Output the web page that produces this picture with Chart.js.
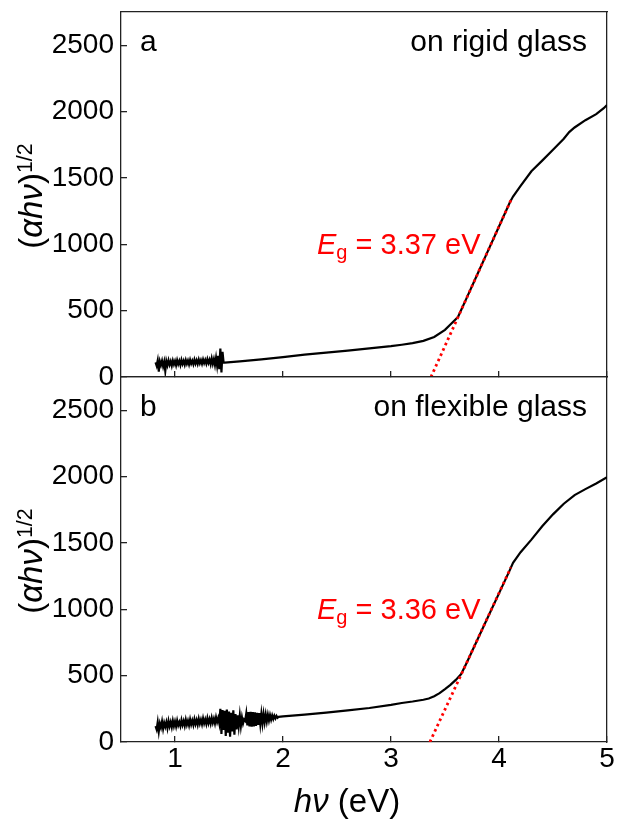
<!DOCTYPE html>
<html><head><meta charset="utf-8">
<script src="https://cdn.jsdelivr.net/npm/chart.js@4.4.1/dist/chart.umd.min.js"></script>
<style>
html,body{margin:0;padding:0;background:#fff;}
body{width:620px;height:825px;position:relative;overflow:hidden;font-family:"Liberation Sans",Arial,sans-serif;}
canvas{position:absolute;left:0;}
#ca{top:0;}
#cb{top:360px;}
.t{position:absolute;font-size:30px;line-height:1;white-space:nowrap;color:#000;}
.eg{position:absolute;font-size:29px;line-height:1;white-space:nowrap;color:#ff0000;}
.yt{position:absolute;font-size:33px;line-height:1;white-space:nowrap;color:#000;transform:translate(-50%,-50%) rotate(-90deg);}
.sup{font-size:0.65em;position:relative;top:-10px;}
.sub{font-size:20px;position:relative;top:5px;}
</style></head><body>
<canvas id="ca" width="620" height="395"></canvas>
<canvas id="cb" width="620" height="465"></canvas>

<div class="t" style="left:140px;top:26px;">a</div>
<div class="t" style="right:33px;top:26px;">on rigid glass</div>
<div class="eg" style="left:317px;top:230px;"><i>E</i><span class="sub">g</span> = 3.37 eV</div>

<div class="t" style="left:140px;top:391px;">b</div>
<div class="t" style="right:33px;top:391px;">on flexible glass</div>
<div class="eg" style="left:317px;top:595px;"><i>E</i><span class="sub">g</span> = 3.36 eV</div>

<div class="yt" style="left:30px;top:196px;">(<i>αhν</i>)<span class="sup">1/2</span></div>
<div class="yt" style="left:30px;top:561px;">(<i>αhν</i>)<span class="sup">1/2</span></div>
<div class="t" style="font-size:33px;left:347px;top:784px;transform:translateX(-50%);"><i>hν</i> (eV)</div>

<script>
// ---------- data ----------
const xTicks = [1, 2, 3, 4, 5];
const yTicks = [0, 500, 1000, 1500, 2000, 2500];

// panel a: on rigid glass
const hvA = [0.82,0.83,0.84,0.85,0.86,0.87,0.88,0.89,0.90,0.91,0.92,0.93,0.94,0.95,0.96,0.97,0.98,0.99,
  1.00,1.01,1.02,1.03,1.04,1.05,1.06,1.07,1.08,1.09,1.10,1.11,1.12,1.13,1.14,1.15,1.16,1.17,1.18,1.19,
  1.20,1.21,1.22,1.23,1.24,1.25,1.26,1.27,1.28,1.29,1.30,1.31,1.32,1.33,1.34,1.35,1.36,1.37,1.38,1.39,
  1.40,1.41,1.42,1.43,1.44,1.45,
  1.46,1.6,1.8,2.0,2.2,2.4,2.6,2.8,3.0,3.1,3.2,3.3,3.4,3.5,3.55,3.62,3.7,3.8,3.9,4.0,4.1,4.13,
  4.2,4.3,4.4,4.5,4.6,4.65,4.7,4.8,4.9,4.97,5.0];
const absA = [110,85,125,40,118,90,122,80,115,45,120,88,125,92,118,85,124,95,
  120,88,126,96,121,90,128,98,122,92,127,99,124,94,129,100,123,96,130,101,
  126,98,131,103,127,99,132,104,128,100,134,105,130,96,140,100,135,90,145,85,
  160,60,215,35,190,108,
  108,118,133,150,168,183,199,215,232,243,255,272,302,355,395,452,594,774,954,1134,1314,1360,
  1440,1550,1630,1712,1795,1845,1880,1935,1980,2025,2050];
const fitHvA = [3.37, 4.12];
const fitAbsA = [0, 1350];

// panel b: on flexible glass
const hvB = [0.82,0.83,0.84,0.85,0.86,0.87,0.88,0.89,0.90,0.91,0.92,0.93,0.94,0.95,0.96,0.97,0.98,0.99,
  1.00,1.01,1.02,1.03,1.04,1.05,1.06,1.07,1.08,1.09,1.10,1.11,1.12,1.13,1.14,1.15,1.16,1.17,1.18,1.19,
  1.20,1.21,1.22,1.23,1.24,1.25,1.26,1.27,1.28,1.29,1.30,1.31,1.32,1.33,1.34,1.35,1.36,1.37,1.38,1.39,
  1.40,1.41,1.42,1.43,1.44,1.45,1.46,1.47,1.48,1.49,1.50,1.51,1.52,1.53,1.54,1.55,1.56,1.57,1.58,1.59,
  1.60,1.61,1.62,1.63,1.64,1.65,1.66,1.67,1.68,1.69,1.70,1.71,1.72,1.73,1.74,1.75,1.76,1.77,1.78,1.79,
  1.80,1.81,1.82,1.83,1.84,1.85,1.86,1.87,1.88,1.89,1.90,1.91,1.92,1.93,1.94,1.95,
  1.96,2.0,2.2,2.4,2.6,2.8,3.0,3.1,3.2,3.3,3.35,3.4,3.45,3.5,3.55,3.6,3.65,3.7,3.8,3.9,4.0,4.1,4.13,
  4.2,4.3,4.4,4.5,4.6,4.7,4.8,4.9,5.0];
const absB = [120,95,150,80,140,110,155,100,145,115,150,105,158,118,150,112,160,120,
  155,118,162,125,150,120,165,128,158,122,168,130,160,125,170,132,162,128,172,135,
  165,130,175,138,168,134,178,140,170,136,180,142,173,138,182,145,176,140,186,150,
  180,140,250,60,240,90,235,45,245,70,230,40,220,80,238,55,210,95,200,120,
  200,120,185,140,170,160,215,125,225,118,228,115,226,118,224,122,220,128,217,135,
  213,140,210,148,207,155,205,162,202,168,200,173,198,178,196,182,
  190,193,206,222,238,256,280,294,305,318,328,345,368,398,430,468,512,595,770,945,1120,1295,1350,
  1430,1525,1625,1715,1795,1860,1905,1948,1995];
const fitHvB = [3.36, 4.11];
const fitAbsB = [0, 1315];

// ---------- chart construction ----------
const FONT = "'Liberation Sans', Arial, sans-serif";
const AX = '#222';
const toPts = (xs, ys) => xs.map((x, i) => ({x: x, y: ys[i]}));
const noPad = s => { s.paddingTop = 0; s.paddingBottom = 0; s.paddingLeft = 0; s.paddingRight = 0; };

function makeChart(id, hv, ab, fhv, fab, showXLabels, padTop, xAxisH) {
  const tickFont = {family: FONT, size: 28};
  return new Chart(document.getElementById(id), {
    type: 'line',
    data: {
      datasets: [
        {data: toPts(fhv, fab), borderColor: '#ff0000', borderWidth: 2.8, borderDash: [2.6, 3.2],
         pointRadius: 0, fill: false, tension: 0, order: 0},
        {data: toPts(hv, ab), borderColor: '#000', borderWidth: 2.2, pointRadius: 0,
         fill: false, tension: 0, order: 1}
      ]
    },
    options: {
      responsive: false, animation: false, events: [],
      layout: {padding: {top: padTop, right: 13, left: 0, bottom: 0}},
      plugins: {legend: {display: false}, tooltip: {enabled: false}},
      scales: {
        x: {type: 'linear', position: 'bottom', min: 0.5, max: 5,
          afterBuildTicks: s => { s.ticks = xTicks.map(v => ({value: v})); },
          ticks: {display: showXLabels, font: tickFont, color: '#000', padding: 6, maxRotation: 0,
                  autoSkip: false, callback: v => String(v)},
          grid: {display: true, drawOnChartArea: false, drawTicks: true, tickLength: -6, color: AX, lineWidth: 1.3},
          border: {display: true, color: AX, width: 1.3},
          afterFit: s => { s.height = xAxisH; noPad(s); }
        },
        y: {type: 'linear', position: 'left', min: 0, max: 2750,
          afterBuildTicks: s => { s.ticks = yTicks.map(v => ({value: v})); },
          ticks: {font: tickFont, color: '#000', padding: 13, autoSkip: false, callback: v => String(v)},
          grid: {display: true, drawOnChartArea: false, drawTicks: true, tickLength: -6, color: AX, lineWidth: 1.3},
          border: {display: true, color: AX, width: 1.3},
          afterFit: s => { s.width = 121; noPad(s); }
        },
        x2: {type: 'linear', position: 'top', min: 0.5, max: 5,
          ticks: {display: false},
          grid: {display: true, drawOnChartArea: false, drawTicks: false},
          border: {display: true, color: AX, width: 1.3},
          afterFit: s => { s.height = 0; noPad(s); }
        },
        y2: {type: 'linear', position: 'right', min: 0, max: 2750,
          ticks: {display: false},
          grid: {display: true, drawOnChartArea: false, drawTicks: false},
          border: {display: true, color: AX, width: 1.3},
          afterFit: s => { s.width = 0; noPad(s); }
        }
      }
    }
  });
}

makeChart('ca', hvA, absA, fitHvA, fitAbsA, false, 12, 18);
makeChart('cb', hvB, absB, fitHvB, fitAbsB, true, 17, 83);
</script>
</body></html>
